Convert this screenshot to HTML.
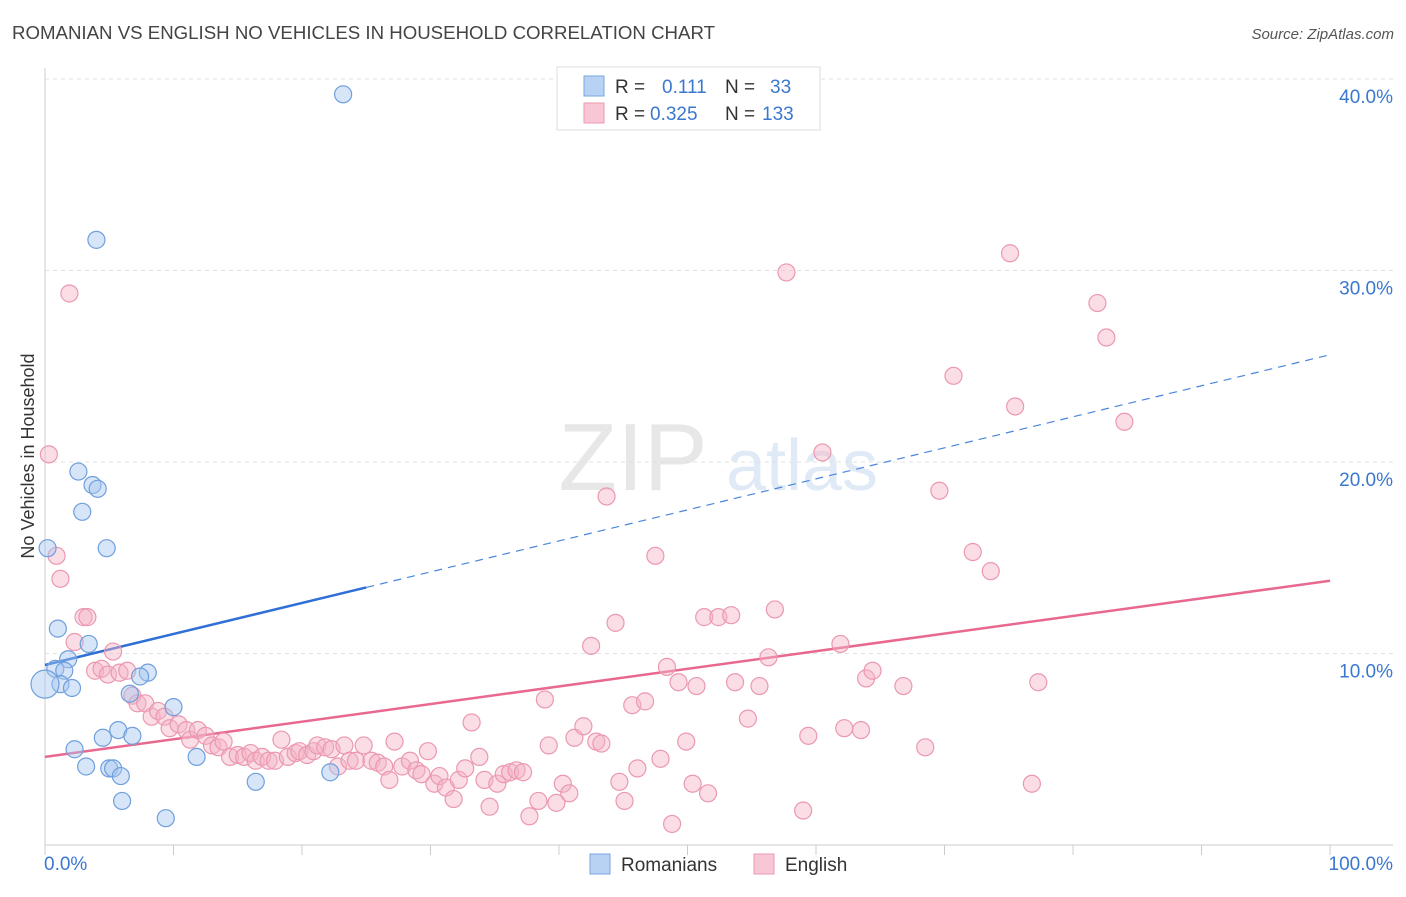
<!DOCTYPE html>
<html><head><meta charset="utf-8"><style>
body{margin:0;background:#fff;font-family:"Liberation Sans",sans-serif;}
svg text{font-family:"Liberation Sans",sans-serif;}
</style></head><body>
<svg id="chart" width="1406" height="892" viewBox="0 0 1406 892" xmlns="http://www.w3.org/2000/svg">
<text x="12" y="39" font-size="18" fill="#444" textLength="703" lengthAdjust="spacingAndGlyphs">ROMANIAN VS ENGLISH NO VEHICLES IN HOUSEHOLD CORRELATION CHART</text>
<text x="1394" y="39" font-size="15" fill="#555" text-anchor="end" font-style="italic">Source: ZipAtlas.com</text>
<g opacity="0.35">
<text x="633" y="490" font-size="96" fill="#bbb" text-anchor="middle" font-family="Liberation Serif">ZIP</text>
<text x="802" y="490" font-size="72" fill="#a9c5e8" text-anchor="middle">atlas</text>
</g>
<g id="grid"></g>
<g id="axes"></g>
<g id="lines"></g>
<g id="points"></g>
<text transform="translate(34,456) rotate(-90)" font-size="18" fill="#333" text-anchor="middle">No Vehicles in Household</text>
<g>
<rect x="557" y="67" width="263" height="63" fill="#fff" stroke="#ddd"/>
<rect x="584" y="76" width="20" height="20" fill="#b8d2f4" stroke="#7aa7e0"/>
<rect x="584" y="103" width="20" height="20" fill="#f8c6d4" stroke="#eb9ab2"/>
<text x="615" y="93" font-size="19" fill="#333">R =</text>
<text x="662" y="93" font-size="19" fill="#3a78d0">0.111</text>
<text x="725" y="93" font-size="19" fill="#333">N =</text>
<text x="770" y="93" font-size="19" fill="#3a78d0">33</text>
<text x="615" y="120" font-size="19" fill="#333">R =</text>
<text x="650" y="120" font-size="19" fill="#3a78d0">0.325</text>
<text x="725" y="120" font-size="19" fill="#333">N =</text>
<text x="762" y="120" font-size="19" fill="#3a78d0">133</text>
</g>
<g>
<rect x="590" y="854" width="20" height="20" fill="#b8d2f4" stroke="#7aa7e0"/>
<text x="621" y="871" font-size="19" fill="#333">Romanians</text>
<rect x="754" y="854" width="20" height="20" fill="#f8c6d4" stroke="#eb9ab2"/>
<text x="785" y="871" font-size="19" fill="#333">English</text>
</g>
</svg>
<script>
const yTicks=[10,20,30,40];
const yTickLabels=["10.0%","20.0%","30.0%","40.0%"];
const xTicks=[0,10,20,30,40,50,60,70,80,90,100];
const blueX=[23.2,4.0,2.6,3.7,4.1,2.9,4.8,0.2,1.0,3.4,1.8,0.8,1.5,8.0,7.4,1.2,2.1,6.6,10.0,5.7,4.5,6.8,2.3,11.8,3.2,5.0,5.3,5.9,16.4,22.2,6.0,9.4,0.0];
const blueY=[39.2,31.6,19.5,18.8,18.6,17.4,15.5,15.5,11.3,10.5,9.7,9.2,9.1,9.0,8.8,8.4,8.2,7.9,7.2,6.0,5.6,5.7,5.0,4.6,4.1,4.0,4.0,3.6,3.3,3.8,2.3,1.4,8.4];
const pinkX=[
0.3,1.9,0.9,1.2,3.0,3.3,2.3,5.3,3.9,4.4,
4.9,5.8,6.4,6.8,7.2,7.8,8.3,8.8,9.3,9.7,
10.4,11.0,11.3,11.9,12.5,13.0,13.5,13.9,14.4,15.0,
15.5,16.0,16.4,16.9,17.4,17.9,18.4,18.9,19.5,19.8,
20.4,20.9,21.2,21.8,22.3,22.8,23.3,23.7,24.2,24.8,
25.4,25.9,26.4,26.8,27.2,27.8,28.4,28.9,29.3,29.8,
30.3,30.7,31.2,31.8,32.2,32.7,33.2,33.8,34.2,34.6,
35.2,35.7,36.2,36.7,37.2,37.7,38.4,38.9,39.2,39.8,
40.3,40.8,41.2,41.9,42.5,42.9,43.3,43.7,44.4,44.7,
45.1,45.7,46.1,46.7,47.5,47.9,48.4,48.8,49.3,49.9,
50.4,50.7,51.3,51.6,52.4,53.4,53.7,54.7,55.6,56.3,
56.8,57.7,59.0,59.4,60.5,61.9,62.2,63.5,63.9,64.4,
66.8,68.5,69.6,70.7,72.2,73.6,75.1,75.5,76.8,77.3,
81.9,82.6,84.0];
const pinkY=[
20.4,28.8,15.1,13.9,11.9,11.9,10.6,10.1,9.1,9.2,
8.9,9.0,9.1,7.8,7.4,7.4,6.7,7.0,6.7,6.1,
6.3,6.0,5.5,6.0,5.7,5.2,5.1,5.4,4.6,4.7,
4.6,4.8,4.4,4.6,4.4,4.4,5.5,4.6,4.8,4.9,
4.7,4.9,5.2,5.1,5.0,4.1,5.2,4.4,4.4,5.2,
4.4,4.3,4.1,3.4,5.4,4.1,4.4,3.9,3.7,4.9,
3.2,3.6,3.0,2.4,3.4,4.0,6.4,4.6,3.4,2.0,
3.2,3.7,3.8,3.9,3.8,1.5,2.3,7.6,5.2,2.2,
3.2,2.7,5.6,6.2,10.4,5.4,5.3,18.2,11.6,3.3,
2.3,7.3,4.0,7.5,15.1,4.5,9.3,1.1,8.5,5.4,
3.2,8.3,11.9,2.7,11.9,12.0,8.5,6.6,8.3,9.8,
12.3,29.9,1.8,5.7,20.5,10.5,6.1,6.0,8.7,9.1,
8.3,5.1,18.5,24.5,15.3,14.3,30.9,22.9,3.2,8.5,
28.3,26.5,22.1];
const blueFit=[9.4,25.6];
const pinkFit=[4.6,13.8];
const NS="http://www.w3.org/2000/svg";
const X0=45,X1=1330,Y0=845,PXPER=19.15;
function xs(v){return X0+(X1-X0)*v/100;}
function ys(v){return Y0-v*PXPER;}
function mk(tag,attrs,parent){const e=document.createElementNS(NS,tag);for(const k in attrs)e.setAttribute(k,attrs[k]);parent.appendChild(e);return e;}
const grid=document.getElementById('grid'),axes=document.getElementById('axes'),lines=document.getElementById('lines'),pts=document.getElementById('points');
yTicks.forEach((t,i)=>{
 const g=mk('line',{x1:X0,x2:1393,y1:ys(t),y2:ys(t),stroke:'#e2e2e2','stroke-dasharray':'4,4'},grid);
 
 
 const tx=mk('text',{x:1393,y:ys(t)+24,'font-size':19,fill:'#3a78d0','text-anchor':'end'},axes);
 tx.textContent=yTickLabels[i];
 
 
});
const ya=mk('line',{x1:X0,x2:X0,y1:68,y2:Y0,stroke:'#ccc'},axes);


const xa=mk('line',{x1:X0,x2:1393,y1:Y0,y2:Y0,stroke:'#ccc'},axes);


xTicks.forEach(t=>{
 const l=mk('line',{x1:xs(t),x2:xs(t),y1:Y0,y2:Y0+10,stroke:'#ccc'},axes);
 
 
});
const xl0=mk('text',{x:44,y:870,'font-size':19,fill:'#3a78d0'},axes);xl0.textContent='0.0%';


const xl1=mk('text',{x:1393,y:870,'font-size':19,fill:'#3a78d0','text-anchor':'end'},axes);xl1.textContent='100.0%';


function drawPts(X,Y,fill,stroke,name){X.forEach((x,i)=>{
 const c=mk('circle',{cx:xs(x),cy:ys(Y[i]),r:(name==='romanian-point'&&i===X.length-1)?14:8.5,fill:fill,'fill-opacity':0.45,stroke:stroke,'stroke-width':1.2},pts);
 
 
});}
drawPts(pinkX,pinkY,'#f5b3c6','#eb98b0','english-point');
drawPts(blueX,blueY,'#a7c6ef','#6f9fdc','romanian-point');
const bsplit=25;
const yb=v=>blueFit[0]+(blueFit[1]-blueFit[0])*v/100;
const b1=mk('line',{x1:xs(0),y1:ys(yb(0)),x2:xs(bsplit),y2:ys(yb(bsplit)),stroke:'#2f6fd6','stroke-width':2.5},lines);


const b2=mk('line',{x1:xs(bsplit),y1:ys(yb(bsplit)),x2:xs(100),y2:ys(yb(100)),stroke:'#4a86dd','stroke-width':1.2,'stroke-dasharray':'8,6'},lines);


const p1=mk('line',{x1:xs(0),y1:ys(pinkFit[0]),x2:xs(100),y2:ys(pinkFit[1]),stroke:'#e8688f','stroke-width':2.5},lines);


</script>
</body></html>
